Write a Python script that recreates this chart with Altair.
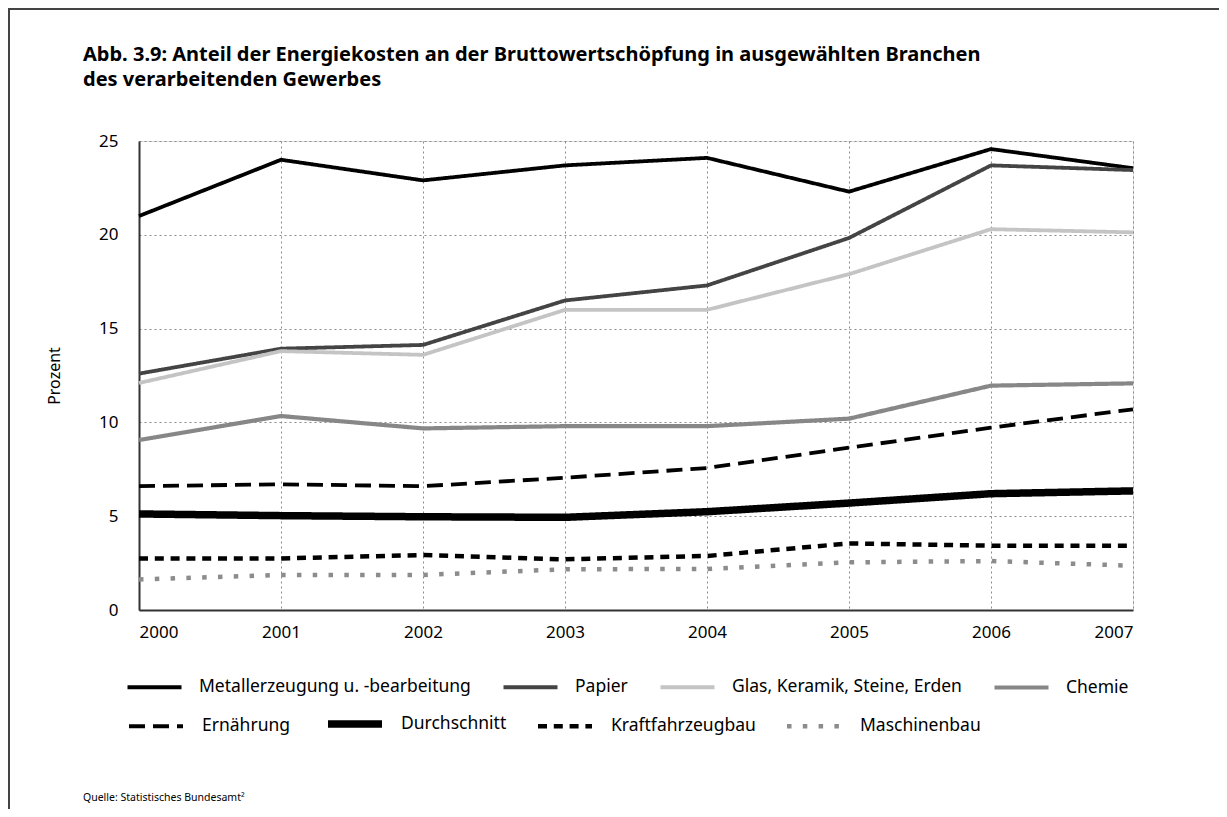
import altair as alt
import pandas as pd

years = [2000, 2001, 2002, 2003, 2004, 2005, 2006, 2007]

series_row1 = [
    "Metallerzeugung u. -bearbeitung",
    "Papier",
    "Glas, Keramik, Steine, Erden",
    "Chemie",
]
series_row2 = [
    "Ernährung",
    "Durchschnitt",
    "Kraftfahrzeugbau",
    "Maschinenbau",
]

metall = [21.0, 24.0, 22.9, 23.7, 24.1, 22.3, 24.57, 23.55]
papier = [12.6, 13.93, 14.13, 16.5, 17.3, 19.83, 23.7, 23.45]
glas = [12.1, 13.8, 13.6, 16.0, 16.0, 17.9, 20.3, 20.13]
chemie = [9.06, 10.34, 9.68, 9.8, 9.8, 10.2, 11.96, 12.08]
ernaehrung = [6.6, 6.7, 6.6, 7.05, 7.57, 8.65, 9.72, 10.7]
durchschnitt = [5.12, 5.03, 4.97, 4.94, 5.24, 5.7, 6.2, 6.35]
kfz = [2.75, 2.75, 2.93, 2.7, 2.88, 3.55, 3.43, 3.43]
maschinenbau = [1.63, 1.87, 1.87, 2.17, 2.19, 2.54, 2.61, 2.36]

y_ticks = [0, 5, 10, 15, 20, 25]

title_line1 = "Abb. 3.9: Anteil der Energiekosten an der Bruttowertschöpfung in ausgewählten Branchen"
title_line2 = "des verarbeitenden Gewerbes"
source_text = "Quelle: Statistisches Bundesamt²"

colors_row1 = ["#000000", "#444444", "#c4c4c4", "#878787"]
widths_row1 = [3.8, 3.8, 3.8, 4.2]
dashes_row1 = [[1, 0], [1, 0], [1, 0], [1, 0]]
colors_row2 = ["#000000", "#000000", "#000000", "#8c8c8c"]
widths_row2 = [3.8, 7.5, 4.5, 4.5]
dashes_row2 = [[16, 8], [1, 0], [9, 6.8], [4.5, 11.3]]


def long_table(names, value_lists, field):
    rows = []
    for name, vals in zip(names, value_lists):
        for yr, v in zip(years, vals):
            rows.append({"Jahr": yr, "Wert": v, field: name})
    return pd.DataFrame(rows)


df1 = long_table(series_row1, [metall, papier, glas, chemie], "Branche1")
df2 = long_table(series_row2, [ernaehrung, durchschnitt, kfz, maschinenbau], "Branche2")

FONT = "Noto Sans"

x_enc = alt.X("Jahr:Q",
              scale=alt.Scale(domain=[2000, 2007], nice=False, zero=False),
              axis=alt.Axis(values=years, format="d", title=None, grid=True,
                            gridColor="#8a8a8a", gridDash=[2, 3], gridWidth=1,
                            ticks=False, tickSize=0, labelPadding=14,
                            labelFontSize=17, labelFont=FONT, labelColor="#000",
                            domainColor="#333", domainWidth=2))
y_enc = alt.Y("Wert:Q",
              scale=alt.Scale(domain=[0, 25], nice=False),
              axis=alt.Axis(values=y_ticks, title="Prozent", grid=True,
                            gridColor="#8a8a8a", gridDash=[2, 3], gridWidth=1,
                            ticks=False, tickSize=0, labelPadding=21,
                            labelFontSize=17, labelFont=FONT, labelColor="#000",
                            titleFont=FONT, titleFontSize=16, titleFontWeight="normal",
                            titleColor="#000", titlePadding=36,
                            domainColor="#333", domainWidth=2))


def make_legend(ly, pad):
    return alt.Legend(
        title=None, orient="none", legendX=-14, legendY=ly,
        direction="horizontal", columns=4,
        symbolType="stroke", symbolSize=2916,
        labelFont=FONT, labelFontSize=17.5, labelColor="#000",
        labelOffset=15, columnPadding=pad, labelLimit=400,
    )


def line_layer(df, field, names, colors, widths, dashes, leg):
    return alt.Chart(df).mark_line(strokeCap="butt", strokeJoin="round", clip=False).encode(
        x=x_enc,
        y=y_enc,
        color=alt.Color(f"{field}:N", sort=names,
                        scale=alt.Scale(domain=names, range=colors), legend=leg),
        strokeWidth=alt.StrokeWidth(f"{field}:N", sort=names,
                                    scale=alt.Scale(type="ordinal", domain=names, range=widths),
                                    legend=leg),
        strokeDash=alt.StrokeDash(f"{field}:N", sort=names,
                                  scale=alt.Scale(domain=names, range=dashes), legend=leg),
        detail=f"{field}:N",
    )


lines1 = line_layer(df1, "Branche1", series_row1, colors_row1, widths_row1, dashes_row1,
                    make_legend(517, 24))
lines2 = line_layer(df2, "Branche2", series_row2, colors_row2, widths_row2, dashes_row2,
                    make_legend(552, 22))

one = pd.DataFrame({"a": [0]})
frame_top = alt.Chart(one).mark_rule(color="#444", strokeWidth=2).encode(
    x=alt.value(-131), x2=alt.value(1090), y=alt.value(-132)
)
frame_left = alt.Chart(one).mark_rule(color="#444", strokeWidth=2).encode(
    x=alt.value(-130), y=alt.value(-132), y2=alt.value(670)
)

title1 = alt.Chart(pd.DataFrame({"t": [title_line1]})).mark_text(
    align="left", baseline="alphabetic", font=FONT, fontSize=20, fontWeight="bold", color="#000"
).encode(x=alt.value(-56), y=alt.value(-80), text="t:N")
title2 = alt.Chart(pd.DataFrame({"t": [title_line2]})).mark_text(
    align="left", baseline="alphabetic", font=FONT, fontSize=20, fontWeight="bold", color="#000"
).encode(x=alt.value(-56), y=alt.value(-55), text="t:N")

source = alt.Chart(pd.DataFrame({"t": [source_text]})).mark_text(
    align="left", baseline="alphabetic", font=FONT, fontSize=10.5, color="#000"
).encode(x=alt.value(-56), y=alt.value(660), text="t:N")

chart = alt.layer(lines1, lines2, frame_top, frame_left, title1, title2, source).resolve_scale(
    color="independent", strokeWidth="independent", strokeDash="independent"
).resolve_legend(
    color="independent", strokeWidth="independent", strokeDash="independent"
).properties(
    width=994,
    height=469,
    autosize=alt.AutoSizeParams(type="none"),
    padding={"left": 131, "top": 133, "right": 86, "bottom": 199},
).configure_view(stroke="#000", strokeWidth=1.5).configure(background="white")

chart.save("out.html", embed_options={"renderer": "svg", "actions": False})
